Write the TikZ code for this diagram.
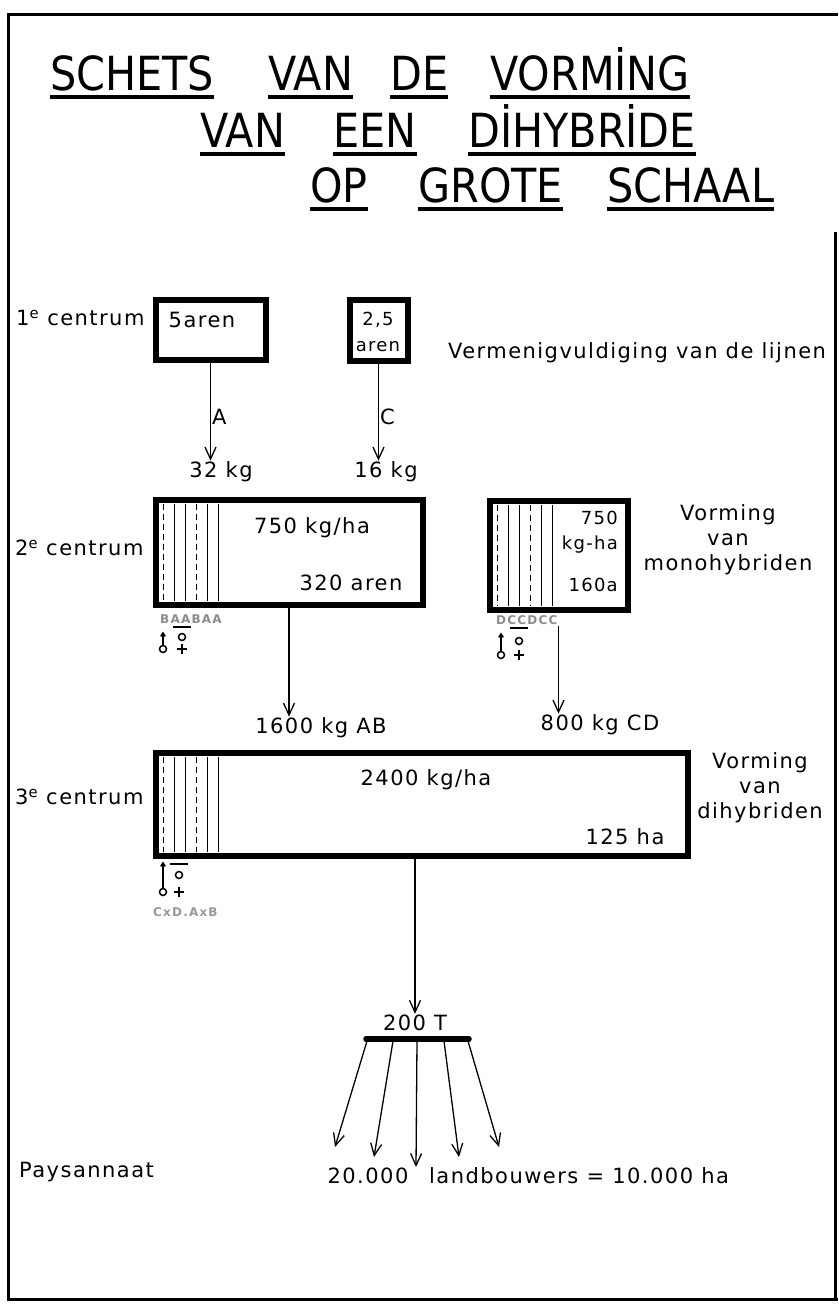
\documentclass[tikz,border=0pt]{standalone}
\usepackage{fontspec}
\setmainfont{DejaVu Sans}
\newfontfamily\titelfont{DejaVu Sans}[FakeStretch=0.88]
\newfontfamily\tekstfont{DejaVu Sans}[LetterSpace=7]
\newfontfamily\codefont{DejaVu Sans}[LetterSpace=10]
\usetikzlibrary{arrows.meta, positioning, calc}

% drill rows inside a field
\newcommand{\rijen}[1]{%
  \foreach \dx/\stijl in {11/streep, 22/rij, 33/rij, 44/streep, 55/rij, 66/rij}
    \draw[\stijl] ([xshift=\dx pt, yshift=-7pt]#1.north west) -- ([xshift=\dx pt, yshift=7pt]#1.south west);}

% male / female marks under a field
\newcommand{\kruis}[5]{%
  \draw[teken] (#1) circle[radius=3.5];
  \draw[teken, -{Straight Barb[length=3.5pt,width=4.5pt]}] ($(#1)+(0,-3.5)$) -- ++(0,-#2);
  \draw[teken] ($(#1)+(#3,-#4)$) circle[radius=3.5];
  \draw[teken] ($(#1)+(#3,0)$) +(-5,0) -- +(5,0) +(0,-5) -- +(0,5);
  \draw[teken] ($(#1)+(#3,-#5)$) +(-9,0) -- +(9,0);}

\begin{document}
\begin{tikzpicture}[
        x=1pt, y=-1pt,
        every node/.style = {inner sep=1pt, align=center},
        tekst/.style  = {font=\fontsize{21}{25}\tekstfont},
        klein/.style  = {font=\fontsize{18}{21}\tekstfont},
        code/.style   = {font=\fontsize{12}{14}\codefont\bfseries, text=black!45},
        titel/.style  = {font=\fontsize{47}{54}\titelfont, inner sep=0pt, anchor=base west},
        onderlijn/.style = {line width=3.5pt},
        kader/.style  = {draw, line width=6pt, inner sep=0pt},
        rij/.style    = {line width=1.8pt},
        streep/.style = {rij, line width=1.4pt, dash pattern=on 6pt off 4pt},
        pijl/.style   = {-{Straight Barb[length=12pt,width=11pt]}, line width=1.3pt},
        teken/.style  = {line width=1.5pt}
    ]
    \useasboundingbox (0,0) rectangle (838,1305);

    % --- frame ---
    \draw[line width=3pt] (838,15) -- (8,15) -- (8,1299) -- (838,1299);
    \draw[line width=3pt] (835,232) -- (835,1299);

    % --- title, word by word with underlines ---
    \foreach \w/\x/\y [count=\i] in {SCHETS/50/91, VAN/268/91, DE/390/91, VORMİNG/490/91,
                                     VAN/200/148, EEN/333/148, DİHYBRİDE/468/148,
                                     OP/310/203, GROTE/418/203, SCHAAL/607/203} {
        \node[titel] (titel\i) at (\x,\y) {\w};
        \draw[onderlijn] ([yshift=-6pt]titel\i.base west) -- ([yshift=-6pt]titel\i.base east);
    }

    % --- 1e centrum ---
    \node[tekst, anchor=west] (c1) at (15,318) {1\textsuperscript{e} centrum};
    \node[kader, minimum width=110pt, minimum height=59pt] (blok1) at (210.5,330) {};
    \node[tekst] (t5) at (202,320) {5aren};
    \node[kader, minimum width=58pt, minimum height=60pt] (blok25) at (378.5,330.5) {};
    \node[klein] (t25) at (378,320) {2,5};
    \node[klein] (taren) at (378,347) {aren};
    \node[tekst] (verm) at (637,353) {Vermenigvuldiging van de lijnen};

    \node[tekst] (kg32) at (221,472) {32 kg};
    \node[tekst] (kg16) at (386,472) {16 kg};
    \draw[pijl] (blok1.south) -- node[tekst, right, pos=0.55] {A} (blok1.south |- kg32.north);
    \draw[pijl] (blok25.south) -- node[tekst, right, pos=0.55] {C} (blok25.south |- kg16.north);

    % --- 2e centrum ---
    \node[tekst, anchor=west] (c2) at (14,548) {2\textsuperscript{e} centrum};
    \node[kader, minimum width=267pt, minimum height=105pt] (blok2) at (289,552) {};
    \rijen{blok2}
    \node[tekst] (dichth2) at (312,528) {750 kg/ha};
    \node[tekst] (opp2) at (351,583) {320 aren};
    \node[code, anchor=west] (baa) at (159,619) {BAABAA};
    \kruis{163,649}{14}{19}{12}{22}

    \node[kader, minimum width=138pt, minimum height=109pt] (blokm) at (558.5,555) {};
    \rijen{blokm}
    \node[klein, anchor=east] (dichtm) at (619,518) {750};
    \node[klein, anchor=east] (eenhm) at (619,545) {kg-ha};
    \node[klein, anchor=east] (oppm) at (619,585) {160a};
    \node[tekst] (vorm2) at (728,540) {Vorming\\van\\monohybriden};
    \node[code, anchor=west] (dcc) at (495,620) {DCCDCC};
    \kruis{501,655}{19}{18}{14}{27}

    \node[tekst] (kg1600) at (321,728) {1600 kg AB};
    \node[tekst] (kg800) at (600,725) {800 kg CD};
    \draw[pijl] (blok2.south) -- (blok2.south |- kg1600.north);
    \draw[pijl] (blokm.south |- dcc.south) -- (blokm.south |- kg800.north);

    % --- 3e centrum ---
    \node[tekst, anchor=west] (c3) at (14,797) {3\textsuperscript{e} centrum};
    \node[kader, minimum width=532pt, minimum height=103pt] (blok3) at (421.5,804) {};
    \rijen{blok3}
    \node[tekst] (dichth3) at (426,780) {2400 kg/ha};
    \node[tekst] (opp3) at (625,837) {125 ha};
    \node[tekst] (vorm3) at (760,788) {Vorming\\van\\dihybriden};
    \kruis{163,892}{27}{16}{17}{28}
    \node[code, anchor=west, text=black!40] (kruising) at (152,912) {CxD.AxB};

    % --- distribution ---
    \node[tekst] (ton) at (415,1023) {200 T};
    \draw[pijl] (blok3.south -| ton) -- (ton.north);
    \coordinate (balkL) at (366,1039);
    \coordinate (balkR) at (469,1039);
    \draw[line width=5.5pt, line cap=round] (balkL) -- (balkR);
    \foreach \bx/\ex/\ey [count=\i] in {367/335/1147, 393/374/1157, 417/416/1167,
                                         444/459/1157, 468/499/1147} {
        \coordinate (van\i) at (\bx,1041);
        \coordinate (naar\i) at (\ex,\ey);
        \draw[pijl] (van\i) -- (naar\i);
    }
    \node[tekst, anchor=west] (pays) at (18,1172) {Paysannaat};
    \node[tekst] (boer20) at (368,1176) {20.000};
    \node[tekst, anchor=west] (boeren) at (428,1176) {landbouwers = 10.000 ha};

\end{tikzpicture}
\end{document}
